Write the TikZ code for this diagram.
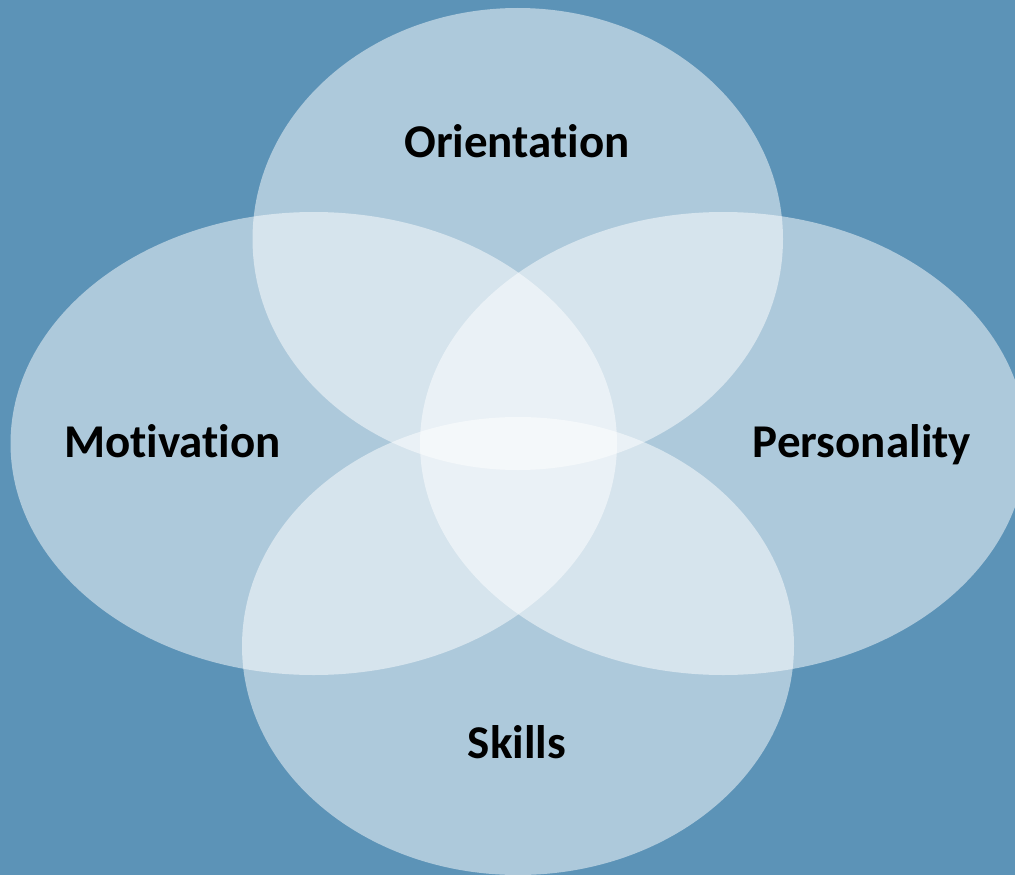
\documentclass[tikz,border=0pt]{standalone}
\usepackage{fontspec}
\setmainfont{Carlito}
\usetikzlibrary{shapes.geometric}
\definecolor{bgblue}{HTML}{5C93B7}
\newcommand{\nolig}{\kern0pt}
\tikzset{
  petal/.style={ellipse, fill=white, fill opacity=0.5, draw=none, inner sep=0pt},
  lbl/.style={font=\bfseries\fontsize{47}{50}\selectfont, text=black, anchor=base, inner sep=0pt}
}
\begin{document}
\begin{tikzpicture}[x=1pt,y=-1pt]
\useasboundingbox (0,0) rectangle (1015,875);
\clip (0,0) rectangle (1015,875);
\fill[bgblue] (0,0) rectangle (1015,875);
\node[petal, minimum width=530.5pt, minimum height=462pt] (top) at (517.75,239) {};
\node[petal, minimum width=606.5pt, minimum height=463pt] (left) at (313.75,443.5) {};
\node[petal, minimum width=606.5pt, minimum height=463pt] (right) at (723.25,443.5) {};
\node[petal, minimum width=552pt, minimum height=458pt] (bottom) at (518,646) {};
\node[lbl] (t1) at (517,157) {Orientat\nolig ion};
\node[lbl] (t2) at (172.5,457) {Mot\nolig ivat\nolig ion};
\node[lbl] (t3) at (862,457) {Personality};
\node[lbl] (t4) at (517,758) {Skills};
\end{tikzpicture}
\end{document}
